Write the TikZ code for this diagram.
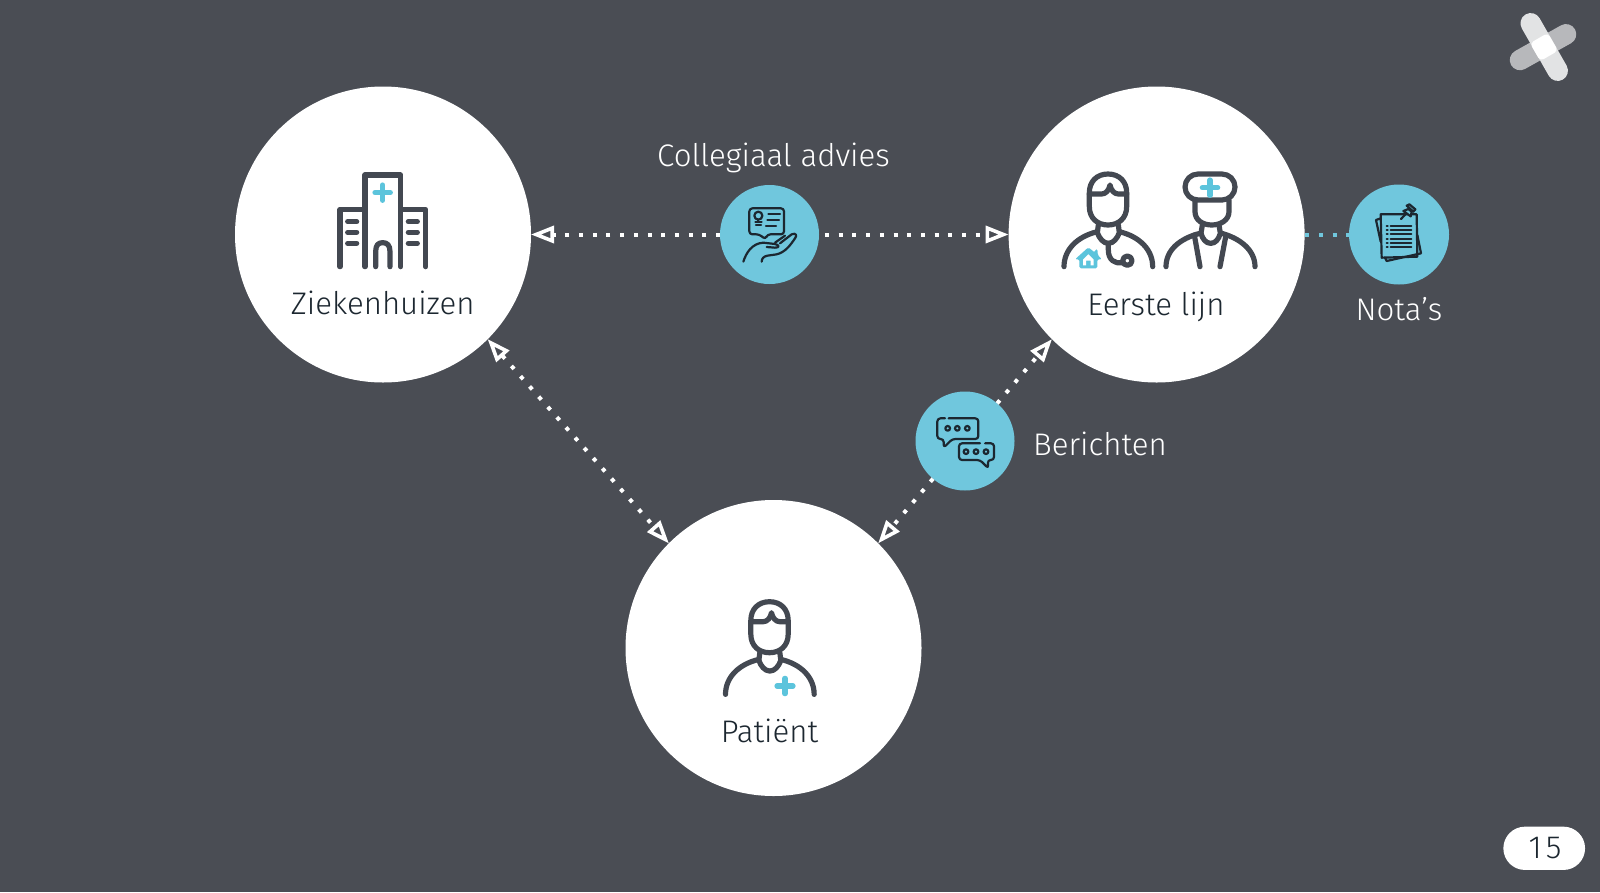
\documentclass[tikz,border=0pt]{standalone}
\usepackage{fontspec}
\setmainfont{Fira Sans Light}
\usetikzlibrary{arrows.meta}
\definecolor{bg}{HTML}{4A4D54}
\definecolor{teal}{HTML}{70C7DD}
\definecolor{icon}{HTML}{434851}
\definecolor{ink}{HTML}{1C2730}
\definecolor{crossc}{HTML}{5CC4DC}
\newcommand{\personhead}{
  \draw[iconline] (148,128) .. controls (148,95) and (170,72) .. (204,72) .. controls (238,72) and (260,95) .. (260,128) -- (260,170) .. controls (260,205) and (235,225) .. (204,225) .. controls (173,225) and (148,205) .. (148,170) -- cycle;
  \draw[iconline] (148,132) -- (185,132) .. controls (198,132) and (207,120) .. (210,105) .. controls (213,120) and (222,132) .. (235,132) -- (260,132);
  \draw[iconline] (175,225) -- (172,248) .. controls (178,265) and (190,280) .. (205,280) .. controls (220,280) and (232,265) .. (238,248) -- (235,225);
  \draw[iconline] (72,350) .. controls (72,300) and (110,260) .. (172,245);
  \draw[iconline] (238,245) .. controls (300,260) and (338,300) .. (338,350);
}
\tikzset{
  x=1pt,y=-1pt,
  bigdisc/.style={circle,fill=white,minimum size=296pt,inner sep=0pt,outer sep=0pt},
  smalldisc/.style={circle,fill=teal,minimum size=99pt,inner sep=0pt,outer sep=0pt},
  label/.style={inner sep=0pt,font=\fontsize{31.2}{36}\selectfont,text=white},
  inlabel/.style={inner sep=0pt,font=\fontsize{31.2}{36}\selectfont,text=ink},
  tipopen/.tip={Triangle[open,length=23pt,width=17pt,line width=3.6pt,fill=bg]},
  dotline/.style={draw=white,line width=4pt,dash pattern=on 4pt off 9.7pt},
  tealdots/.style={draw=teal,line width=4pt,dash pattern=on 4pt off 9.7pt},
  iconline/.style={draw=icon,line width=5.2pt,line cap=round,line join=round},
  iconcross/.style={draw=crossc,line width=5.2pt,line cap=round},
  thinline/.style={draw=ink,line width=2.2pt,line cap=round,line join=round},
  crop/.style={x=0.33333pt,y=-0.33333pt},
}
\begin{document}
\begin{tikzpicture}
\useasboundingbox (0,0) rectangle (1600,892);
\fill[bg] (0,0) rectangle (1600,892);

\node[bigdisc] (zk) at (383,234.5) {};
\node[bigdisc] (el) at (1156.6,234.5) {};
\node[bigdisc] (pat) at (773.5,648) {};
\node[smalldisc] (adv) at (769.5,234.5) {};
\node[smalldisc,minimum size=100pt] (nota) at (1399,234.5) {};
\node[smalldisc] (ber) at (965,441) {};

\draw[dotline,-{tipopen}] (adv.west) -- (zk.east);
\draw[dotline,dash phase=7.7pt,-{tipopen}] (adv.east) -- (el.west);
\draw[tealdots,dash phase=13pt] (el.east) -- (nota.west);
\draw[dotline,{tipopen}-{tipopen}] (zk.-45) -- (pat.135);
\draw[dotline,-{tipopen}] (ber) -- (el.225);
\draw[dotline,-{tipopen}] (ber) -- (pat.45);

\node[label] (t1) at (773.5,158) {Collegiaal advies};
\node[inlabel] (t2) at (382.7,303) {Ziekenhuizen};
\node[inlabel] (t3) at (1156,307) {Eerste lijn};
\node[inlabel] (t4) at (769.5,731) {Patiënt};
\node[label] (t5) at (1399,309) {Nota’s};
\node[label,anchor=west] (t6) at (1033,444) {Berichten};

% hospital
\begin{scope}[xshift=310pt,yshift=-150pt,crop]
  \draw[iconline] (165,350) -- (165,75) -- (272,75) -- (272,350);
  \draw[iconline] (90,350) -- (90,178) -- (165,178);
  \draw[iconline] (347,350) -- (347,178) -- (272,178);
  \foreach \yy in {215,247,280} {
    \draw[iconline] (113,\yy) -- (140,\yy);
    \draw[iconline] (295,\yy) -- (322,\yy);
  }
  \draw[iconline] (197,350) -- (197,305) .. controls (197,285) and (205,278) .. (218,278) .. controls (231,278) and (240,285) .. (240,305) -- (240,350);
  \draw[iconcross] (195,128) -- (241,128);
  \draw[iconcross] (218,105) -- (218,151);
\end{scope}

% family doctor
\begin{scope}[xshift=1040pt,yshift=-150pt,crop]
  \personhead
  \draw[iconline] (205,280) -- (205,300) .. controls (205,330) and (225,342) .. (246,338);
  \draw[iconline] (262,332) circle (14);
  \fill[crossc,rounded corners=1.5pt] (145,292) -- (165,308) -- (165,298) -- (173,298) -- (173,315) -- (186,328) -- (172,328) -- (172,355) -- (118,355) -- (118,328) -- (105,328) -- cycle;
  \fill[white] (145,313) -- (161,329) -- (161,346) -- (152,346) -- (152,332) -- (138,332) -- (138,346) -- (129,346) -- (129,329) -- cycle;
\end{scope}

% nurse
\begin{scope}[xshift=1040pt,yshift=-150pt,crop]
  \draw[iconline,rounded corners=13pt] (435,72) rectangle (585,150);
  \draw[iconcross] (487,113) -- (533,113);
  \draw[iconcross] (510,90) -- (510,136);
  \draw[iconline] (465,150) -- (465,185) .. controls (465,210) and (488,225) .. (515,225) .. controls (542,225) and (567,210) .. (567,185) -- (567,150);
  \draw[iconline] (487,225) -- (483,250) .. controls (488,268) and (498,280) .. (512,280) .. controls (526,280) and (536,268) .. (541,250) -- (537,225);
  \draw[iconline] (378,350) .. controls (378,300) and (420,265) .. (480,250);
  \draw[iconline] (545,250) .. controls (600,265) and (645,300) .. (645,350);
  \draw[iconline] (463,255) -- (480,350);
  \draw[iconline] (558,255) -- (540,350);
\end{scope}

% patient
\begin{scope}[xshift=701.5pt,yshift=-577.7pt,crop]
  \personhead
\end{scope}
\begin{scope}[xshift=700pt,yshift=-580pt,crop]
  \draw[iconcross] (231,318) -- (279,318);
  \draw[iconcross] (255,295) -- (255,341);
\end{scope}

% advice icon
\begin{scope}[xshift=710pt,yshift=-175pt,crop]
  \draw[thinline,rounded corners=3pt] (118,100) -- (222,100) -- (222,178) -- (172,178) -- (166,193) -- (148,178) -- (118,178) -- cycle;
  \draw[thinline] (145,122) circle (12);
  \draw[thinline] (136,141) -- (155,141);
  \draw[thinline] (138,150) -- (153,150);
  \draw[thinline] (145,134) -- (145,141);
  \draw[thinline] (175,118) -- (210,118);
  \draw[thinline] (172,135) -- (207,135);
  \draw[thinline] (168,152) -- (198,152);
  \draw[thinline] (100,260) .. controls (108,235) and (125,205) .. (160,203) -- (195,207) .. controls (208,210) and (210,218) .. (195,218) -- (170,216);
  \draw[thinline] (195,203) -- (225,182);
  \draw[thinline] (210,205) -- (245,178) .. controls (258,172) and (262,182) .. (255,190) .. controls (240,212) and (225,232) .. (200,238) -- (172,242) .. controls (162,244) and (155,250) .. (155,260);
\end{scope}

% notes icon
\begin{scope}[xshift=1340pt,yshift=-175pt,crop]
  \draw[thinline] (122,130) -- (108,135) -- (122,200);
  \draw[thinline] (232,180) -- (243,235) -- (140,258) -- (135,248);
  \draw[thinline] (125,248) -- (232,245) -- (230,118) -- (122,118) -- cycle;
  \foreach \yy in {152,165,178,191,204,217} {
    \draw[thinline] (152,\yy) -- (214,\yy);
    \draw[thinline] (140,\yy) -- (143,\yy);
  }
  \draw[thinline,fill=teal] (190,108) -- (205,102) -- (215,110) -- (212,124) -- cycle;
  \draw[thinline,fill=teal] (200,92) -- (208,88) -- (226,103) -- (220,110) -- cycle;
  \draw[thinline] (198,116) -- (183,132);
\end{scope}

% messages icon
\begin{scope}[xshift=900pt,yshift=-380pt,crop]
  \draw[thinline,rounded corners=3pt] (135,115) -- (112,115) -- (112,177) -- (131,177) -- (131,203) -- (157,177) -- (235,177) -- (235,115) -- (146,115);
  \draw[thinline,rounded corners=3pt] (240,190) -- (177,190) -- (177,240) -- (240,240) -- (265,265) -- (263,240) -- (282,240) -- (282,190) -- (255,190);
  \foreach \xx in {143,172,202} \draw[thinline] (\xx,145) circle (7);
  \foreach \xx in {198,228,258} \draw[thinline] (\xx,215) circle (7);
\end{scope}

% logo
\draw[line width=20.5pt,line cap=round,draw=white!60!bg] (1520,60) -- (1566,34.3);
\draw[line width=20.5pt,line cap=round,draw=white!84!bg] (1530.7,23.3) -- (1557.7,70.7);
\fill[white,rotate around={30:(1544,47)},rounded corners=4pt] (1533.7,36.7) rectangle (1554.3,57.3);

% page number
\node[fill=white,rounded corners=21.6pt,minimum width=81.7pt,minimum height=43.3pt,inner sep=0pt] (pg) at (1544.2,848.3) {};
\node[inner sep=0pt,font=\fontsize{32}{36}\selectfont,text=ink] (pgn) at (1545,848.3) {1\kern4pt 5};
\end{tikzpicture}
\end{document}
